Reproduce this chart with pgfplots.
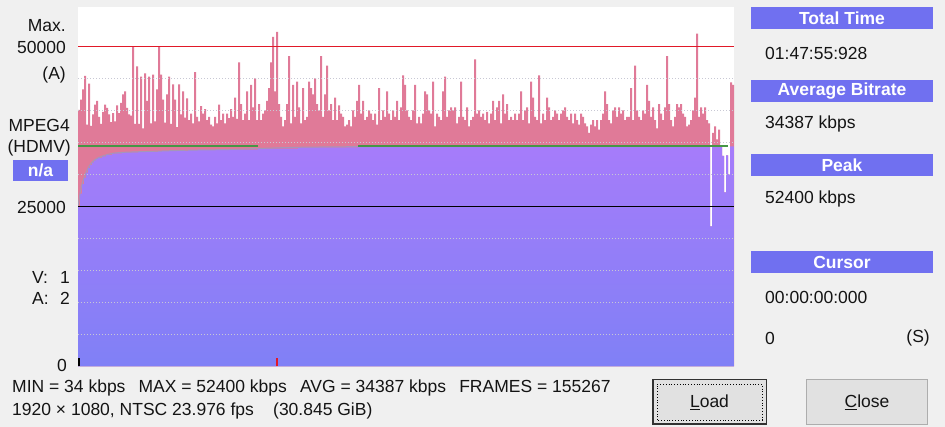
\documentclass[border=0pt]{standalone}
\usepackage{pgfplots}
\pgfplotsset{compat=1.18}
\usepackage{pgfplotstable}
\usepackage{fontspec}
\setmainfont{Liberation Sans}
\definecolor{winbg}{RGB}{240,240,240}
\definecolor{pinkc}{RGB}{224,122,152}
\definecolor{purptop}{RGB}{166,124,250}
\definecolor{purpbot}{RGB}{128,128,246}
\definecolor{hdr}{RGB}{112,112,240}
\definecolor{gridc}{RGB}{200,200,212}
\definecolor{avggreen}{RGB}{70,150,70}
\definecolor{maxred}{RGB}{225,25,40}
\definecolor{btnfill}{RGB}{225,225,225}
\definecolor{btnborder}{RGB}{173,173,173}
\definecolor{txt}{RGB}{20,20,20}
\definecolor{curve}{RGB}{165,150,185}

\pgfplotstableread{
y
40100
41700
43300
45400
37800
44200
37600
39400
40900
41500
39000
37900
39800
40900
40400
39400
38200
39600
38300
40800
39600
41200
42500
43000
40400
39400
39200
50000
37900
46900
37900
45300
37200
45800
41500
45300
38000
45600
38300
43300
50000
45600
41700
38100
42500
45300
37900
44100
41700
37400
44100
39400
43000
38900
41900
38500
39500
38000
46000
39000
38300
40700
39500
40200
38500
39000
37800
37500
39000
38000
40900
38500
39500
38000
39500
38800
40200
39000
42000
38700
47500
41000
38500
39500
43000
38500
44000
40500
45000
38500
41000
38500
39500
40000
41500
43500
47500
51500
43000
52300
41000
39000
37500
38500
41000
48500
38000
44000
39000
44500
40500
38000
43500
38500
39000
44500
43500
42500
45000
41000
40000
48500
39000
42500
47000
40000
41000
38500
42000
38500
40800
39500
39000
37500
37800
38500
37500
40000
39000
41500
44000
39500
41500
38500
39000
40000
39500
38500
39500
37800
43500
38500
40000
39000
43000
39500
38500
40000
39000
41500
38500
40500
45500
44000
40000
39000
38500
40000
44000
38000
39000
38000
39500
43000
42500
40000
39500
44500
37500
39500
39000
38500
43000
45300
39000
40000
40500
40000
40500
38000
39000
44500
39000
38500
40500
37500
38500
39000
48000
39500
40000
39000
39500
38500
39800
38000
39500
41500
38500
40500
41500
38000
42500
39500
41000
38500
39000
38500
39500
38500
39500
43000
38500
40000
40500
38000
44500
42000
39000
38500
45500
38000
39500
38500
42000
40500
38500
39000
40000
39500
38500
39500
40000
40500
39000
38500
39500
38000
39500
38500
37800
39500
39000
38000
37500
36500
37800
38500
37500
38500
37000
38500
39500
43000
41000
38500
38000
40000
40500
39000
40500
39500
40000
38500
39000
39000
43500
38500
47000
40000
39000
38500
40000
39500
44000
41500
39000
40500
38500
37200
41000
39500
38500
40500
48500
41000
38500
37500
39000
41000
40500
41000
39500
39000
37500
37800
38500
40000
42000
52000
39000
40500
39500
40500
38500
38000
21900
36500
37500
35500
37000
34500
32900
27200
33000
30000
44400
44000
44000
}\bitrate

\pgfplotstableread{
x y
0 25000
1 27000
2 28500
3 29500
4 30300
5 31000
6 31500
7 31900
8 32200
9 32400
10 32600
12 32850
14 33050
17 33300
22 33450
30 33550
40 33650
55 33800
75 33900
90 34060
110 34250
140 34350
170 34400
316 21900
317 34400
322 32900
323 27200
324 33000
325 30000
326 34400
328 34400
}\avgrun

\pgfplotstableread{
x y
0 25000
1 27000
2 28500
3 29500
4 30300
5 31000
6 31500
7 31900
8 32200
9 32400
10 32600
12 32850
14 33050
17 33300
22 33450
30 33550
40 33650
55 33800
75 33900
90 34060
110 34250
140 34350
170 34400
316 34400
}\avgline

\begin{document}
\fontsize{17.5}{21}\selectfont
\begin{tikzpicture}
\fill[winbg] (0,0) rectangle (945pt,427pt);
\begin{axis}[at={(78pt,60.5pt)}, anchor=south west, scale only axis,
  width=656pt, height=359.5pt, xmin=0, xmax=328, ymin=0, ymax=56172,
  axis background/.style={fill=white}, axis line style={draw=none},
  xtick=\empty, ytick=\empty, major tick length=0pt]
\addplot[const plot, fill=pinkc, draw=none] table[x expr=\coordindex, y=y]{\bitrate} \closedcycle;
\addplot[const plot, draw=none, top color=purptop, bottom color=purpbot] table[x=x, y=y]{\avgrun} \closedcycle;
\pgfplotsinvokeforeach{5000,10000,15000,20000,30000,35000,40000,45000}{
  \addplot[gridc, dotted, line width=1pt] coordinates {(0,#1) (328,#1)};
}
\addplot[curve, line width=1pt, smooth] table[x=x, y=y]{\avgline};
\addplot[avggreen, line width=2pt] coordinates {(0,34387) (90,34387)};
\addplot[avggreen, line width=2pt] coordinates {(140,34387) (325,34387)};
\addplot[maxred, line width=1.5pt] coordinates {(0,50000) (328,50000)};
\addplot[black, line width=1.5pt] coordinates {(0,25000) (328,25000)};
\addplot[maxred, line width=1.5pt] coordinates {(99.5,0) (99.5,1400)};
\addplot[black, line width=2pt] coordinates {(0.4,0) (0.4,1400)};
\end{axis}
% left labels
\begin{scope}[every node/.style={inner sep=0pt, text=txt}]
\node[anchor=east] at (66pt,401pt) {Max.};
\node[anchor=east] at (66pt,380pt) {50000};
\node[anchor=east] at (66pt,352pt) {(A)};
\node[anchor=east] at (70pt,302pt) {MPEG4};
\node[anchor=east] at (71pt,279pt) {(HDMV)};
\node[fill=hdr, minimum width=55pt, minimum height=21pt, text=white, font=\bfseries] at (40.5pt,256.5pt) {n/a};
\node[anchor=east] at (66pt,220pt) {25000};
\node[anchor=west] at (32pt,150pt) {V:};
\node[anchor=east] at (70pt,150pt) {1};
\node[anchor=west] at (32pt,129pt) {A:};
\node[anchor=east] at (70pt,129pt) {2};
\node[anchor=east] at (67pt,62pt) {0};
% right panel
\node[fill=hdr, minimum width=182pt, minimum height=22pt, text=white, font=\bfseries] at (842pt,409pt) {Total Time};
\node[anchor=west] at (765pt,374pt) {01:47:55:928};
\node[fill=hdr, minimum width=182pt, minimum height=22pt, text=white, font=\bfseries] at (842pt,336pt) {Average Bitrate};
\node[anchor=west] at (765pt,303pt) {34387 kbps};
\node[fill=hdr, minimum width=182pt, minimum height=22pt, text=white, font=\bfseries] at (842pt,262pt) {Peak};
\node[anchor=west] at (765pt,228pt) {52400 kbps};
\node[fill=hdr, minimum width=182pt, minimum height=22pt, text=white, font=\bfseries] at (842pt,164.5pt) {Cursor};
\node[anchor=west] at (765pt,130pt) {00:00:00:000};
\node[anchor=west] at (765pt,89pt) {0};
\node[anchor=east] at (930pt,89pt) {(S)};
% bottom
\node[anchor=west] at (12pt,39pt) {MIN = 34 kbps\hspace{0.75em}MAX = 52400 kbps\hspace{0.75em}AVG = 34387 kbps\hspace{0.75em}FRAMES = 155267};
\node[anchor=west] at (12pt,16pt) {1920 × 1080, NTSC 23.976 fps\hspace{1.1em}(30.845 GiB)};
\end{scope}
% buttons
\draw[fill=btnfill, draw={rgb,255:red,50;green,50;blue,50}, line width=1.5pt] (652.75pt,2.75pt) rectangle (766.25pt,47.25pt);
\draw[draw=black, dotted, line width=0.8pt] (657pt,7pt) rectangle (762pt,43pt);
\node[inner sep=0pt, text=txt] at (709.5pt,25pt) {\underline{L}oad};
\draw[fill=btnfill, draw=btnborder, line width=1pt] (806.5pt,2.5pt) rectangle (927.5pt,47.5pt);
\node[inner sep=0pt, text=txt] at (867pt,25pt) {\underline{C}lose};
\pgfresetboundingbox
\useasboundingbox (0,0) rectangle (945pt,427pt);
\end{tikzpicture}
\end{document}
